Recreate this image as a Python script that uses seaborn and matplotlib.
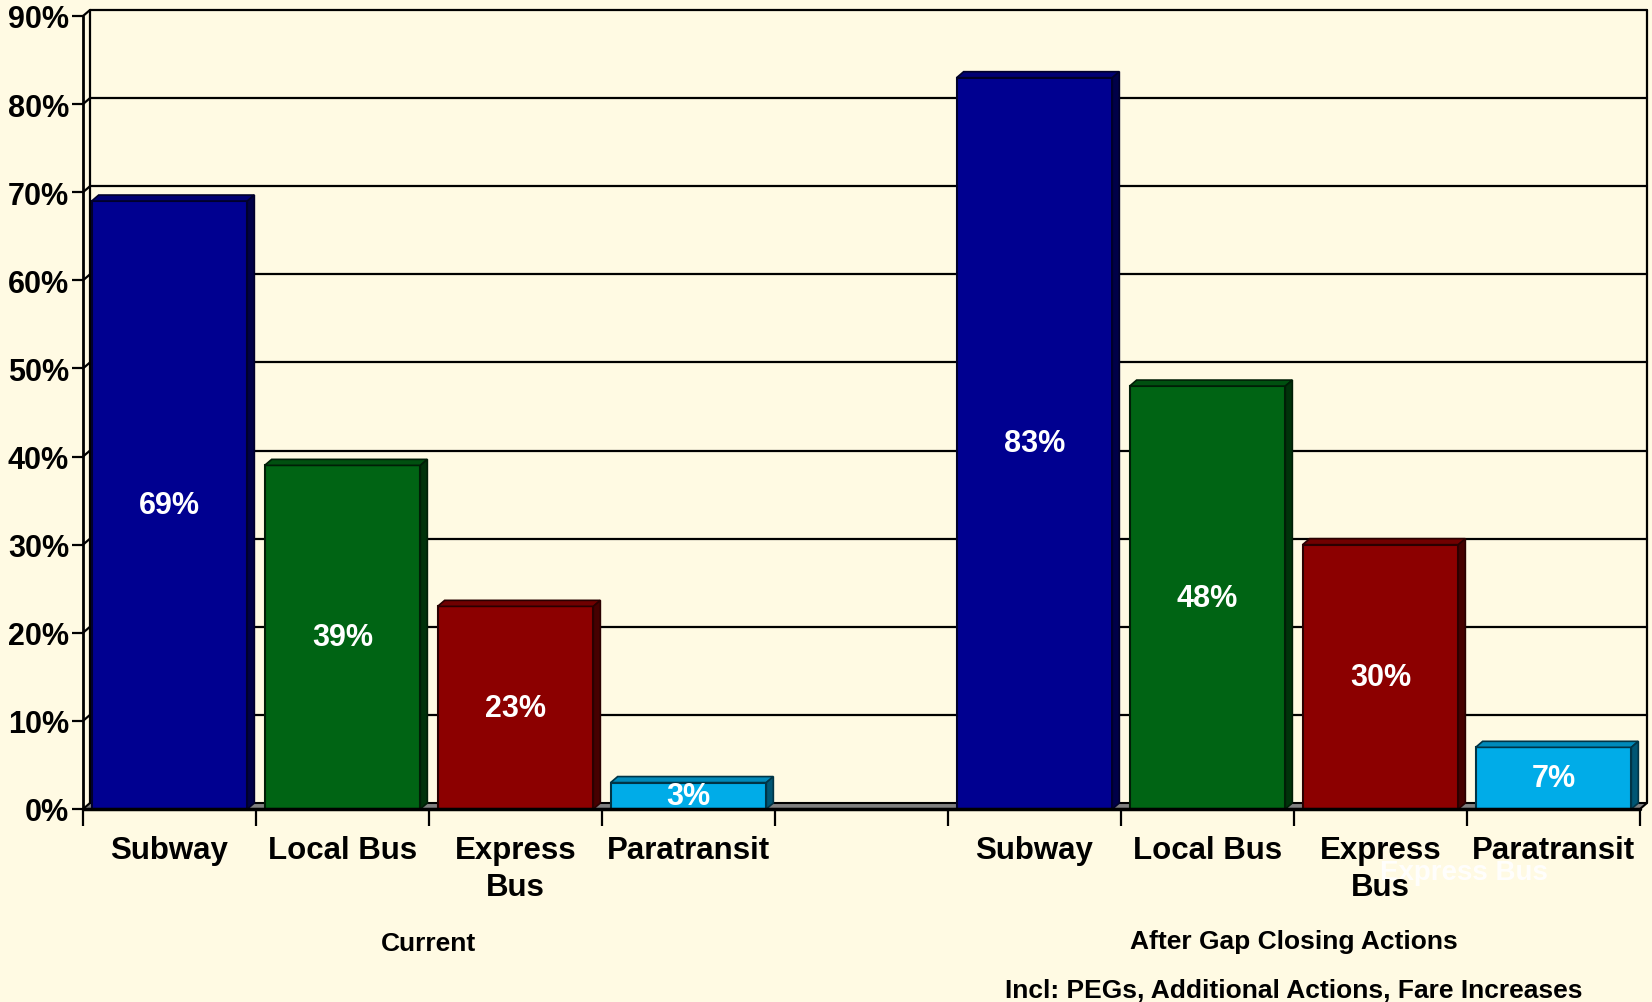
import matplotlib
matplotlib.use("Agg")
import matplotlib.pyplot as plt
from matplotlib.patches import Polygon
from matplotlib.transforms import blended_transform_factory
import seaborn as sns
import pandas as pd
import numpy as np

MODES = ["Subway", "Local Bus", "Express Bus", "Paratransit"]
MODE_TICKS = ["Subway", "Local Bus", "Express\nBus", "Paratransit"]
CURRENT = [69, 39, 23, 3]
AFTER_GAP = [83, 48, 30, 7]
GROUPS = ["Current", "After Gap Closing Actions"]
SUBTITLE = "Incl: PEGs, Additional Actions, Fare Increases"
GHOST_LABEL = "Express Bus"
COLORS = ["#000090", "#006414", "#8c0000", "#00ace8"]
Y_TICKS = list(range(0, 100, 10))
BG = "#fffae3"

W, H, DPI = 1652, 1003, 100

sns.set_style("white")
plt.rcParams['font.family'] = ['Liberation Sans', 'DejaVu Sans']
plt.rcParams['font.weight'] = 'bold'
plt.rcParams['text.color'] = 'black'
plt.rcParams['xtick.color'] = 'black'
plt.rcParams['ytick.color'] = 'black'

slots = [f"cur {m}" for m in MODES] + [f"aft {m}" for m in MODES]
order = slots[:4] + ["gap"] + slots[4:]
df = pd.DataFrame({"slot": slots, "value": CURRENT + AFTER_GAP, "mode": MODES * 2})
palette = {s: COLORS[i % 4] for i, s in enumerate(slots)}

fig = plt.figure(figsize=(W / DPI, H / DPI), dpi=DPI, facecolor=BG)
ax = fig.add_axes([83 / W, 1 - 810 / H, (1640 - 83) / W, (810 - 17) / H])
ax.set_facecolor(BG)

sns.barplot(data=df, x="slot", y="value", hue="slot", order=order, hue_order=slots,
            palette=palette, width=0.9, saturation=1, legend=False, ax=ax, zorder=3)

n = len(order)
ax.set_xlim(-0.5, n - 0.5)
ax.set_ylim(0, 90)

# 3d depth in data units
ax_w = (1640 - 83)
ax_h = (810 - 17)
dx = 7 / (ax_w / n)
dy = 6 / (ax_h / 90)

x0, x1 = -0.5, n - 0.5
line_kw = dict(color="black", lw=1.6, clip_on=False, zorder=1)
# back wall
for v in Y_TICKS[1:]:
    ax.plot([x0 + dx, x1 + dx], [v + dy, v + dy], **line_kw)
    ax.plot([x0, x0 + dx], [v, v + dy], **line_kw)
ax.plot([x0 + dx, x0 + dx], [dy, 90 + dy], **line_kw)
ax.plot([x1 + dx, x1 + dx], [dy, 90 + dy], **line_kw)
ax.plot([x0, x0], [0, 90], color="black", lw=2, clip_on=False, zorder=4)

# floor
floor = Polygon([(x0, 0), (x1, 0), (x1 + dx, dy), (x0 + dx, dy)], closed=True,
                facecolor="#808080", edgecolor="black", lw=1.5, clip_on=False, zorder=2)
ax.add_patch(floor)
ax.plot([x0, x1], [0, 0], color="black", lw=2.5, clip_on=False, zorder=4)

for p in ax.patches:
    if p is floor:
        continue
    h = p.get_height()
    if not h or np.isnan(h):
        continue
    c = np.array(p.get_facecolor()[:3])
    edge = tuple(c * 0.3)
    p.set_edgecolor(edge)
    p.set_linewidth(1.5)
    bx0 = p.get_x()
    bx1 = bx0 + p.get_width()
    top = Polygon([(bx0, h), (bx1, h), (bx1 + dx, h + dy), (bx0 + dx, h + dy)], closed=True,
                  facecolor=tuple(c * 0.8), edgecolor=edge, lw=1.2, clip_on=False, zorder=3)
    side = Polygon([(bx1, 0), (bx1 + dx, dy), (bx1 + dx, h + dy), (bx1, h)], closed=True,
                   facecolor=tuple(c * 0.5), edgecolor=edge, lw=1.2, clip_on=False, zorder=3)
    ax.add_patch(top)
    ax.add_patch(side)
    ax.text(bx0 + p.get_width() / 2, h / 2, f"{int(round(h))}%", color="white",
            fontsize=22, fontweight="bold", ha="center", va="center", zorder=5)

for s in ["top", "right", "left", "bottom"]:
    ax.spines[s].set_visible(False)

ax.set_yticks(Y_TICKS)
ax.set_yticklabels([f"{t}%" for t in Y_TICKS], fontsize=22, fontweight="bold")
ax.tick_params(axis="y", left=True, direction="out", length=8, width=1.6, pad=2, colors="black")

ax.set_xticks(range(n))
ax.set_xticklabels(MODE_TICKS + [""] + MODE_TICKS, fontsize=22.5, fontweight="bold",
                   linespacing=1.3)
ax.set_xticks(np.arange(-0.5, n), minor=True)
ax.tick_params(axis="x", which="major", length=0, pad=19)
ax.tick_params(axis="x", which="minor", bottom=True, direction="out", length=12, width=1.6, colors="black")
ax.set_xlabel("")
ax.set_ylabel("")
ax.grid(False)

tr = blended_transform_factory(ax.transData, fig.transFigure)
ax.text(1.5, 1 - 944 / H, GROUPS[0], transform=tr, ha="center", va="center", fontsize=19, fontweight="bold")
ax.text(6.5, 1 - 942 / H, GROUPS[1], transform=tr, ha="center", va="center", fontsize=19, fontweight="bold")
ax.text(6.5, 1 - 991 / H, SUBTITLE, transform=tr, ha="center", va="center", fontsize=19, fontweight="bold")
# faint label left behind in the source, drawn beneath the tick labels
fig.text(1464 / W, 1 - 873 / H, GHOST_LABEL, ha="center", va="center", fontsize=20,
         fontweight="bold", color="white", alpha=0.9, zorder=-1)

fig.savefig("out.png", dpi=DPI, facecolor=BG)
